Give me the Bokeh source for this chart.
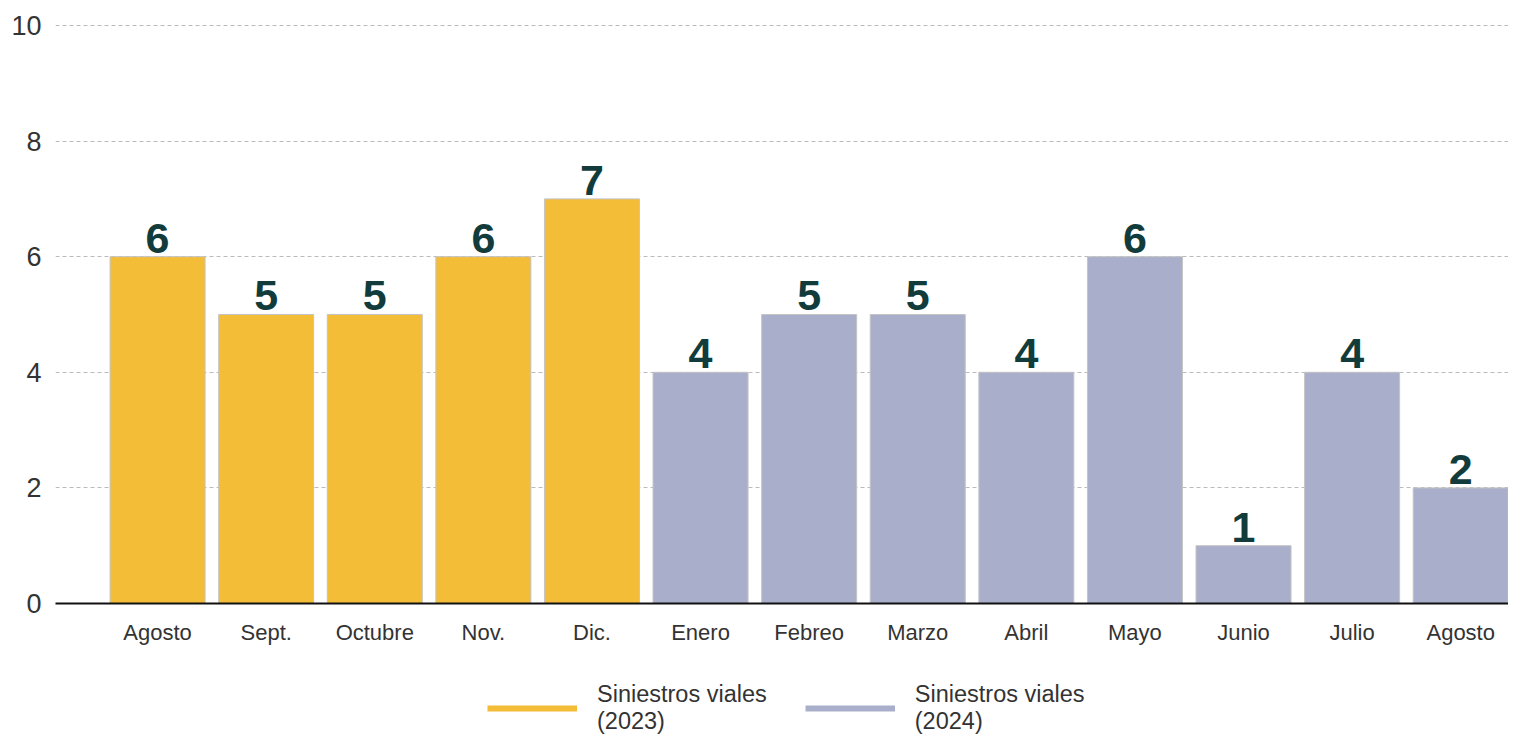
from bokeh.plotting import figure
from bokeh.layouts import column
from bokeh.models import ColumnDataSource, Range1d, Legend, LegendItem, FixedTicker
from bokeh.embed import file_html
from bokeh.resources import INLINE
from bokeh.core.properties import value

# ---- data ----
months = ["Agosto", "Sept.", "Octubre", "Nov.", "Dic.", "Enero", "Febreo", "Marzo",
          "Abril", "Mayo", "Junio", "Julio", "Agosto"]
values = [6, 5, 5, 6, 7, 4, 5, 5, 4, 6, 1, 4, 2]
years = ["2023"] * 5 + ["2024"] * 8
series_2023 = "Siniestros viales\n(2023)"
series_2024 = "Siniestros viales\n(2024)"
y_ticks = [0, 2, 4, 6, 8, 10]

YELLOW = "#F3BD38"
GREY = "#A9AFCA"
FONT = "Liberation Sans"
colors = [YELLOW if y == "2023" else GREY for y in years]
xs = list(range(len(months)))

src = ColumnDataSource(dict(x=xs, top=values, color=colors, label=[str(v) for v in values]))

p = figure(width=1508, height=668, output_backend="svg", toolbar_location=None,
           x_range=Range1d(-0.94, 12.44),
           y_range=Range1d(0, 10.19),
           min_border_left=55, min_border_right=0, min_border_top=14, min_border_bottom=65)
p.outline_line_color = None

p.vbar(x="x", top="top", width=0.875, fill_color="color", line_color="#c4c4c4",
       line_width=1, source=src)
p.text(x="x", y="top", text="label", source=src, text_align="center", text_baseline="bottom",
       y_offset=-4, text_font=value(FONT), text_font_style="bold",
       text_font_size="43px", text_color="#123C3B")

# axes
p.xaxis.ticker = FixedTicker(ticks=xs)
p.xaxis.major_label_overrides = {i: m for i, m in enumerate(months)}
p.xaxis.axis_line_color = "#111111"
p.xaxis.axis_line_width = 2
p.xaxis.major_tick_line_color = None
p.xaxis.minor_tick_line_color = None
p.xaxis.major_label_standoff = 10
p.xaxis.major_label_text_font = FONT
p.xaxis.major_label_text_font_size = "22px"
p.xaxis.major_label_text_color = "#333333"
p.xgrid.grid_line_color = None

p.yaxis.ticker = FixedTicker(ticks=y_ticks)
p.yaxis.axis_line_color = None
p.yaxis.major_tick_line_color = None
p.yaxis.minor_tick_line_color = None
p.yaxis.major_label_standoff = 8
p.yaxis.major_label_text_font = FONT
p.yaxis.major_label_text_font_size = "27px"
p.yaxis.major_label_text_color = "#333333"
p.ygrid.grid_line_color = "#bbbbbb"
p.ygrid.grid_line_dash = "4 3"
p.ygrid.grid_line_width = 1

# ---- legend strip below the chart ----
lg = figure(width=1508, height=67, output_backend="svg", toolbar_location=None,
            x_range=Range1d(0, 1), y_range=Range1d(0, 1),
            min_border_left=0, min_border_right=0, min_border_top=0, min_border_bottom=0)
lg.axis.visible = False
lg.grid.grid_line_color = None
lg.outline_line_color = None
r1 = lg.line(x=[5, 6], y=[5, 6], line_color=YELLOW, line_width=6)
r2 = lg.line(x=[5, 6], y=[5, 6], line_color=GREY, line_width=6)
legend = Legend(items=[LegendItem(label=series_2023, renderers=[r1]),
                       LegendItem(label=series_2024, renderers=[r2])],
                orientation="horizontal", location=(432, 0),
                label_text_font=FONT, label_text_font_size="23.5px",
                label_text_color="#333333", glyph_width=90, glyph_height=20,
                label_standoff=20, spacing=38, border_line_color=None,
                background_fill_alpha=0, margin=0, padding=2)
lg.add_layout(legend, "center")

layout = column(p, lg, spacing=0)
open("out.html", "w").write(file_html(layout, INLINE))
